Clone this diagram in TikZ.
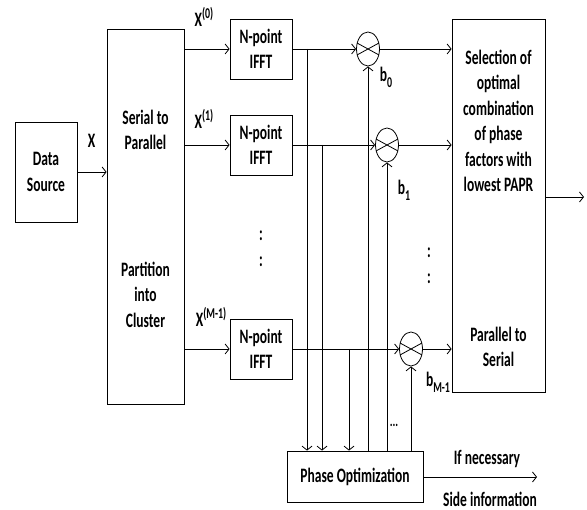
\documentclass[tikz,border=0pt]{standalone}
\usepackage{fontspec}
\setmainfont{Carlito}[FakeStretch=0.66]
\usetikzlibrary{arrows.meta,shapes.geometric}
\begin{document}
\begin{tikzpicture}[x=1pt,y=-1pt,
  every node/.style={font=\fontsize{20.5}{25.5}\selectfont\bfseries, inner sep=0pt},
  blk/.style={draw, line width=0.8pt, align=center},
  txt/.style={align=center},
  mult/.style={draw, ellipse, line width=0.8pt, minimum width=23pt, minimum height=34pt},
  con/.style={line width=0.8pt},
  arr/.style={line width=0.8pt, -{Straight Barb[length=4pt,width=10pt]}}]
\useasboundingbox (0,0) rectangle (587,510);
\newcommand{\supx}[1]{X\raisebox{0.42em}{\fontsize{15}{15}\selectfont #1}}
\newcommand{\subb}[1]{b\raisebox{-0.28em}{\fontsize{15}{15}\selectfont #1}}
% blocks
\node[blk, minimum width=62pt, minimum height=100pt] (ds) at (46,172) {Data\\Source};
\node[blk, minimum width=77pt, minimum height=375pt] (sp) at (145.5,216.5) {};
\node[txt] (sptxt) at (145.5,130) {Serial to\\Parallel};
\node[txt] (pctxt) at (145.5,294.5) {Partition\\into\\Cluster};
\node[blk, minimum width=62pt, minimum height=60pt] (f0) at (261,49) {N-point\\IFFT};
\node[blk, minimum width=62pt, minimum height=60pt] (f1) at (261,145) {N-point\\IFFT};
\node[blk, minimum width=62pt, minimum height=60pt] (f2) at (261,349) {N-point\\IFFT};
\node[blk, minimum width=93pt, minimum height=373pt] (sel) at (498.5,205.5) {};
\node[txt] (seltxt) at (498.5,121) {Selection of\\optimal\\combination\\of phase\\factors with\\lowest PAPR};
\node[txt] (pstxt) at (498.5,347) {Parallel to\\Serial};
\node[blk, minimum width=136pt, minimum height=51pt] (po) at (355,476.5) {Phase Optimization};
% multipliers
\node[mult] (m0) at (368,49) {};
\node[mult] (m1) at (387,145) {};
\node[mult] (m2) at (411,349) {};
\foreach \m in {m0,m1,m2}{
  \draw[con] ([shift={(-11,-6)}]\m.center) -- ([shift={(11,6)}]\m.center);
  \draw[con] ([shift={(-11,6)}]\m.center) -- ([shift={(11,-6)}]\m.center);
}
% labels
\node (lx) at (91.5,141) {X};
\node (lx0) at (204,17) {\supx{(0)}};
\node (lx1) at (204,119) {\supx{(1)}};
\node (lx2) at (211,317) {\supx{(M-1)}};
\node (lb0) at (386,77) {\subb{0}};
\node (lb1) at (404,190) {\subb{1}};
\node (lb2) at (438,382) {\subb{M-1}};
\node (d1) at (261,236) {:};
\node (d2) at (261,262) {:};
\node (d3) at (429,253) {:};
\node (d4) at (429,279) {:};
\node[font=\fontsize{16}{16}\selectfont\bfseries] (d5) at (394,425) {...};
\node (ifn) at (487,459) {If necessary};
\node (side) at (490,499) {Side information};
% connectors
\draw[arr] (ds.east) -- (sp.west |- ds.east);
\draw[arr] (sp.east |- f0.west) -- (f0.west);
\draw[arr] (sp.east |- f1.west) -- (f1.west);
\draw[arr] (sp.east |- f2.west) -- (f2.west);
\draw[arr] (f0.east) -- (m0.west);
\draw[arr] (f1.east) -- (m1.west);
\draw[arr] (f2.east) -- (m2.west);
\draw[arr] (m0.east) -- (sel.west |- m0.east);
\draw[arr] (m1.east) -- (sel.west |- m1.east);
\draw[arr] (m2.east) -- (sel.west |- m2.east);
\coordinate (t0) at (307,49);
\coordinate (t1) at (322,145);
\coordinate (t2) at (349,349);
\draw[arr] (t0) -- (t0 |- po.north);
\draw[arr] (t1) -- (t1 |- po.north);
\draw[arr] (t2) -- (t2 |- po.north);
\draw[arr] (po.north -| m0.south) -- (m0.south);
\draw[arr] (po.north -| m1.south) -- (m1.south);
\draw[arr] (po.north -| m2.south) -- (m2.south);
\coordinate (selout) at (584,197);
\draw[arr] (sel.east |- selout) -- (selout);
\coordinate (poout) at (537,477);
\draw[arr] (po.east |- poout) -- (poout);
\end{tikzpicture}
\end{document}
